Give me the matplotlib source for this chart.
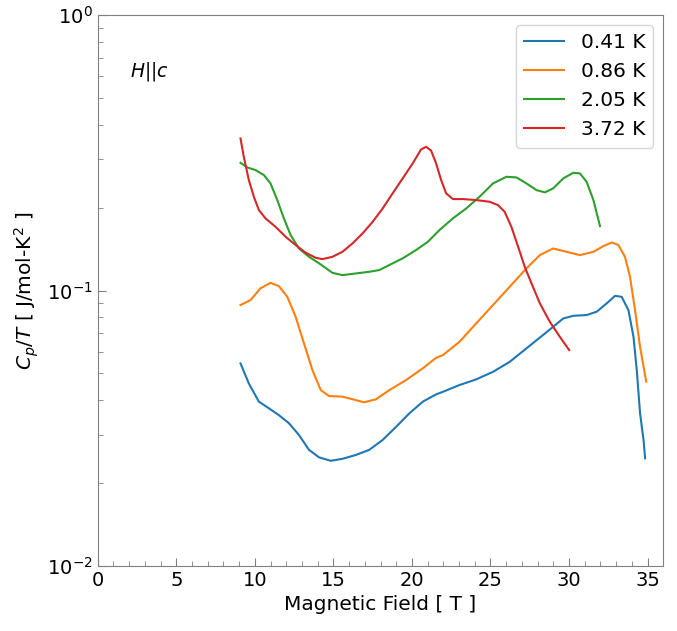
import matplotlib
matplotlib.use("Agg")
from matplotlib import pyplot as plt
from matplotlib.ticker import MultipleLocator

# values (field in T, Cp/T in J/mol-K^2)
labels = ["0.41 K", "0.86 K", "2.05 K", "3.72 K"]

field_041 = [9.09, 9.62, 10.26, 10.89, 11.53, 12.17, 12.81, 13.45, 14.09, 14.83,
             15.58, 16.43, 17.28, 18.14, 18.99, 19.83, 20.69, 21.54, 21.97, 23.03,
             24.09, 25.16, 26.22, 27.29, 28.35, 28.99, 29.63, 30.27, 31.12, 31.76,
             32.40, 32.93, 33.35, 33.78, 34.10, 34.31, 34.52, 34.74, 34.84]
cp_041 = [0.0544, 0.0460, 0.0395, 0.0374, 0.0353, 0.0330, 0.0299, 0.0264, 0.0248, 0.0241,
          0.0245, 0.0253, 0.0264, 0.0287, 0.0320, 0.0358, 0.0395, 0.0420, 0.0429, 0.0454,
          0.0476, 0.0507, 0.0551, 0.0617, 0.0690, 0.0739, 0.0792, 0.0810, 0.0815, 0.0838,
          0.0899, 0.0957, 0.0949, 0.0849, 0.0680, 0.0514, 0.0358, 0.0287, 0.0246]

field_086 = [9.09, 9.73, 10.36, 11.00, 11.53, 12.07, 12.60, 13.13, 13.67, 14.20,
             14.73, 15.58, 16.22, 16.96, 17.71, 18.56, 19.62, 20.69, 21.54, 21.97,
             23.03, 24.09, 25.16, 26.22, 27.29, 28.14, 28.99, 29.84, 30.69, 31.55,
             32.18, 32.72, 33.14, 33.56, 33.88, 34.20, 34.52, 34.91]
cp_086 = [0.0886, 0.0924, 0.1019, 0.1067, 0.1038, 0.0949, 0.0803, 0.0643, 0.0514, 0.0435,
          0.0414, 0.0412, 0.0403, 0.0393, 0.0403, 0.0435, 0.0473, 0.0522, 0.0570, 0.0583,
          0.0652, 0.0760, 0.0886, 0.1032, 0.1204, 0.1345, 0.1422, 0.1383, 0.1345, 0.1383,
          0.1450, 0.1496, 0.1463, 0.1326, 0.1122, 0.0849, 0.0625, 0.0467]

field_205 = [9.09, 9.52, 10.05, 10.58, 11.00, 11.43, 11.85, 12.28, 12.81, 13.45,
             14.09, 14.94, 15.58, 16.43, 17.28, 17.92, 18.56, 19.41, 20.26, 21.01,
             21.75, 22.61, 23.46, 24.30, 25.16, 26.01, 26.65, 27.29, 27.93, 28.46,
             28.99, 29.63, 30.27, 30.69, 31.12, 31.55, 31.97]
cp_205 = [0.2910, 0.2800, 0.2738, 0.2626, 0.2449, 0.2131, 0.1829, 0.1590, 0.1422, 0.1326,
          0.1256, 0.1160, 0.1138, 0.1154, 0.1170, 0.1187, 0.1238, 0.1309, 0.1403, 0.1503,
          0.1658, 0.1829, 0.1988, 0.2190, 0.2449, 0.2589, 0.2576, 0.2449, 0.2316, 0.2273,
          0.2350, 0.2554, 0.2677, 0.2663, 0.2482, 0.2131, 0.1714]

field_372 = [9.09, 9.30, 9.62, 9.94, 10.26, 10.68, 11.32, 11.96, 12.60, 13.24,
             13.88, 14.30, 14.94, 15.58, 16.22, 16.86, 17.50, 18.14, 18.77, 19.41,
             20.05, 20.58, 20.90, 21.22, 21.54, 21.86, 22.18, 22.61, 23.25, 24.09,
             24.94, 25.48, 25.90, 26.33, 26.76, 27.18, 27.61, 28.14, 28.78, 29.41,
             30.01]
cp_372 = [0.3567, 0.3060, 0.2518, 0.2190, 0.1960, 0.1829, 0.1704, 0.1568, 0.1463, 0.1372,
          0.1315, 0.1301, 0.1326, 0.1383, 0.1484, 0.1613, 0.1777, 0.1988, 0.2253, 0.2554,
          0.2895, 0.3255, 0.3327, 0.3223, 0.2895, 0.2518, 0.2253, 0.2149, 0.2149, 0.2131,
          0.2101, 0.2043, 0.1932, 0.1704, 0.1442, 0.1220, 0.1062, 0.0899, 0.0770, 0.0680,
          0.0608]

fig = plt.figure(figsize=(6.77, 6.31), dpi=100)
ax = fig.add_axes([0.1443, 0.103, 0.8355, 0.873])

ax.plot(field_041, cp_041, color="tab:blue", linewidth=1.5, label=labels[0])
ax.plot(field_086, cp_086, color="tab:orange", linewidth=1.5, label=labels[1])
ax.plot(field_205, cp_205, color="tab:green", linewidth=1.5, label=labels[2])
ax.plot(field_372, cp_372, color="tab:red", linewidth=1.5, label=labels[3])

ax.set_yscale("log")
ax.set_xlim(0, 36)
ax.set_ylim(1e-2, 1e0)
ax.xaxis.set_major_locator(MultipleLocator(5))
ax.xaxis.set_minor_locator(MultipleLocator(1))

for s in ax.spines.values():
    s.set_color("#808080")
ax.tick_params(which="both", direction="in", colors="#808080", labelcolor="black",
               labelsize=14)
ax.tick_params(which="major", length=6)
ax.tick_params(which="minor", length=3.5)

ax.set_xlabel("Magnetic Field [ T ]", fontsize=14.5)
ax.set_ylabel(r"$C_p/T$ [ J/mol-K$^2$ ]", fontsize=14.5)

ax.text(0.057, 0.897, r"$H||c$", transform=ax.transAxes, fontsize=13.5, va="center")
ax.legend(loc="upper right", fontsize=14.5)

fig.savefig("out.png")
